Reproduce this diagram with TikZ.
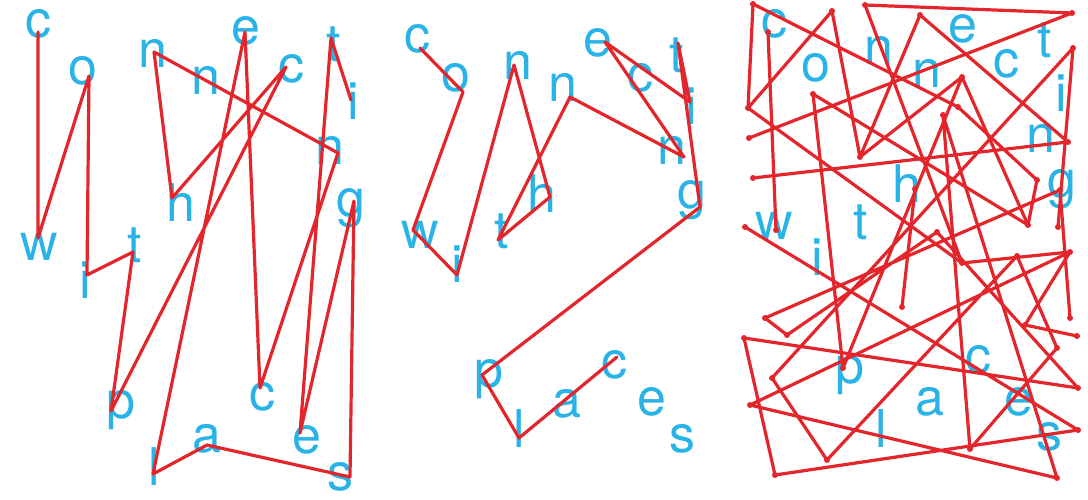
\documentclass[tikz,border=0pt]{standalone}
\usepackage{fontspec}
\setmainfont{TeX Gyre Heros}
\definecolor{blau}{HTML}{29B3E6}
\definecolor{rot}{HTML}{E2262B}
\tikzset{
  lett/.style={blau,anchor=base,inner sep=0pt,font=\fontsize{52}{52}\selectfont},
  linie/.style={rot,line width=3.2pt,line cap=round,line join=round},
  punkt/.style={fill=rot,draw=none},
}
\begin{document}
\begin{tikzpicture}[x=1pt,y=-1pt]
  \useasboundingbox (0,0) rectangle (1088,500);
  % --- links: Buchstaben
  \node[lett] (a-c)  at (38,38)   {c};
  \node[lett] (a-o)  at (83,85)   {o};
  \node[lett] (a-n)  at (153,68)  {n};
  \node[lett] (a-n2) at (206,95)  {n};
  \node[lett] (a-e)  at (246,45)  {e};
  \node[lett] (a-c2) at (291,83)  {c};
  \node[lett] (a-t)  at (334,62)  {t};
  \node[lett] (a-i)  at (353,120) {i};
  \node[lett] (a-n3) at (330,165) {n};
  \node[lett] (a-g)  at (351,217) {g};
  \node[lett] (a-w)  at (39,260)  {w};
  \node[lett] (a-i2) at (85,298)  {i};
  \node[lett] (a-t2) at (135,262) {t};
  \node[lett] (a-h)  at (181,222) {h};
  \node[lett] (a-p)  at (121,418) {p};
  \node[lett] (a-l)  at (154,485) {l};
  \node[lett] (a-a)  at (207,452) {a};
  \node[lett] (a-c3) at (262,410) {c};
  \node[lett] (a-e3) at (307,453) {e};
  \node[lett] (a-s)  at (340,490) {s};
  % --- links: Punkte
  \coordinate (pa-c)  at (38,32);
  \coordinate (pa-w)  at (38,238);
  \coordinate (pa-o)  at (89,76);
  \coordinate (pa-i2) at (87,275);
  \coordinate (pa-t2) at (133,252);
  \coordinate (pa-p)  at (111,411);
  \coordinate (pa-c2) at (286,67);
  \coordinate (pa-h)  at (172,198);
  \coordinate (pa-n)  at (154,52);
  \coordinate (pa-n3) at (338,153);
  \coordinate (pa-c3) at (260,388);
  \coordinate (pa-e)  at (245,32);
  \coordinate (pa-l)  at (153,474);
  \coordinate (pa-a)  at (207,445);
  \coordinate (pa-s)  at (350,477);
  \coordinate (pa-g)  at (354,201);
  \coordinate (pa-e3) at (300,433);
  \coordinate (pa-t)  at (331,38);
  \coordinate (pa-i)  at (351,100);
  \draw[linie] (pa-c)--(pa-w)--(pa-o)--(pa-i2)--(pa-t2)--(pa-p)--(pa-c2)--(pa-h)--(pa-n)
    --(pa-n3)--(pa-c3)--(pa-e)--(pa-l)--(pa-a)--(pa-s)--(pa-g)--(pa-e3)--(pa-t)--(pa-i);

  % --- mitte: Buchstaben
  \node[lett] (b-c)  at (417,53)  {c};
  \node[lett] (b-o)  at (456,92)  {o};
  \node[lett] (b-n)  at (518,80)  {n};
  \node[lett] (b-n2) at (563,102) {n};
  \node[lett] (b-e)  at (598,57)  {e};
  \node[lett] (b-c2) at (640,92)  {c};
  \node[lett] (b-t)  at (677,73)  {t};
  \node[lett] (b-i)  at (691,125) {i};
  \node[lett] (b-n3) at (672,165) {n};
  \node[lett] (b-g)  at (692,208) {g};
  \node[lett] (b-w)  at (420,248) {w};
  \node[lett] (b-i2) at (457,282) {i};
  \node[lett] (b-t2) at (502,248) {t};
  \node[lett] (b-h)  at (542,213) {h};
  \node[lett] (b-p)  at (489,387) {p};
  \node[lett] (b-l)  at (519,447) {l};
  \node[lett] (b-a)  at (567,417) {a};
  \node[lett] (b-c3) at (614,378) {c};
  \node[lett] (b-e3) at (652,415) {e};
  \node[lett] (b-s)  at (682,452) {s};
  % --- mitte: Punkte
  \coordinate (pb-c)  at (420,48);
  \coordinate (pb-o)  at (463,92);
  \coordinate (pb-w)  at (413,230);
  \coordinate (pb-i2) at (457,275);
  \coordinate (pb-n)  at (514,65);
  \coordinate (pb-h)  at (550,197);
  \coordinate (pb-t2) at (498,240);
  \coordinate (pb-n2) at (570,97);
  \coordinate (pb-n3) at (684,157);
  \coordinate (pb-e)  at (605,42);
  \coordinate (pb-i)  at (690,102);
  \coordinate (pb-t)  at (678,43);
  \coordinate (pb-g)  at (700,207);
  \coordinate (pb-p)  at (482,375);
  \coordinate (pb-l)  at (519,438);
  \coordinate (pb-c3) at (617,357);
  \draw[linie] (pb-c)--(pb-o)--(pb-w)--(pb-i2)--(pb-n)--(pb-h)--(pb-t2)--(pb-n2)--(pb-n3)
    --(pb-e)--(pb-i)--(pb-t)--(pb-g)--(pb-p)--(pb-l)--(pb-c3);

  % --- rechts: Buchstaben
  \node[lett] (d-c)  at (774,38)   {c};
  \node[lett] (d-o)  at (816,82)   {o};
  \node[lett] (d-n)  at (879,65)   {n};
  \node[lett] (d-n2) at (927,88)   {n};
  \node[lett] (d-e)  at (963,43)   {e};
  \node[lett] (d-c2) at (1006,78)  {c};
  \node[lett] (d-t)  at (1045,58)  {t};
  \node[lett] (d-i)  at (1061,112) {i};
  \node[lett] (d-n3) at (1041,153) {n};
  \node[lett] (d-g)  at (1062,197) {g};
  \node[lett] (d-w)  at (774,240)  {w};
  \node[lett] (d-i2) at (817,275)  {i};
  \node[lett] (d-t2) at (861,240)  {t};
  \node[lett] (d-h)  at (907,203)  {h};
  \node[lett] (d-p)  at (850,383)  {p};
  \node[lett] (d-l)  at (881,447)  {l};
  \node[lett] (d-a)  at (930,415)  {a};
  \node[lett] (d-c3) at (978,373)  {c};
  \node[lett] (d-e3) at (1019,415) {e};
  \node[lett] (d-s)  at (1049,450) {s};
  % --- rechts: Knick-Punkte
  \coordinate (qA) at (753,4);     \coordinate (qB) at (768,32);
  \coordinate (qC) at (832,11);    \coordinate (qD) at (865,5);
  \coordinate (qE) at (1072,13);   \coordinate (qF) at (920,15);
  \coordinate (qG) at (1073,48);   \coordinate (qH) at (748,108);
  \coordinate (qI) at (749,138);   \coordinate (qJ) at (813,94);
  \coordinate (qK) at (962,77);    \coordinate (qL) at (958,107);
  \coordinate (qM) at (943,115);   \coordinate (qN) at (860,157);
  \coordinate (qO) at (1068,142);  \coordinate (qP) at (753,178);
  \coordinate (qQ) at (1037,180);  \coordinate (qR) at (1028,225);
  \coordinate (qS) at (1058,227);  \coordinate (qT) at (776,230);
  \coordinate (qU) at (745,227);   \coordinate (qV) at (915,189);
  \coordinate (qX) at (937,232);   \coordinate (qY) at (1060,190);
  \coordinate (qW) at (1070,252);
  \coordinate (r1) at (962,263);   \coordinate (r2) at (1017,256);
  \coordinate (r3) at (902,307);   \coordinate (r4) at (765,318);
  \coordinate (r5) at (787,335);   \coordinate (r6) at (1070,318);
  \coordinate (r7) at (1077,336);  \coordinate (r8) at (1025,325);
  \coordinate (r9) at (1057,348);  \coordinate (r10) at (744,338);
  \coordinate (r11) at (843,368);  \coordinate (r12) at (772,378);
  \coordinate (r13) at (750,405);  \coordinate (r14) at (1078,388);
  \coordinate (r15) at (1078,430); \coordinate (r16) at (970,449);
  \coordinate (r17) at (827,460);  \coordinate (r18) at (775,475);
  \coordinate (r19) at (1057,478);
  \draw[linie] (qB)--(qT);
  \draw[linie] (qP)--(qO)--(qF)--(qN)--(qC)--(qH)--(qA)--(qL)--(qQ)--(qR)--(qJ)--(r11)--(qK);
  \draw[linie] (qI)--(qE)--(qD)--(r1)--(qW)--(r8)--(r7);
  \draw[linie] (qH)--(r1);
  \draw[linie] (qN)--(qK)--(qR);
  \draw[linie] (qS)--(qG)--(r12)--(r17)--(r2)--(r9)--(r16)--(qM)--(r19)--(r13)--(qW);
  \draw[linie] (qV)--(r3);
  \draw[linie] (r6)--(qY)--(r4)--(r5)--(qX)--(r14)--(r10)--(r18)--(r15)--(qU);
  \foreach \k in {qA,qB,qC,qD,qE,qF,qG,qH,qI,qJ,qK,qL,qM,qN,qO,qP,qQ,qR,qS,qT,qU,qV,qX,qY,qW,
    r1,r2,r3,r4,r5,r6,r7,r8,r9,r10,r11,r12,r13,r14,r15,r16,r17,r18,r19}
    \fill[punkt] (\k) circle (3pt);
\end{tikzpicture}
\end{document}
